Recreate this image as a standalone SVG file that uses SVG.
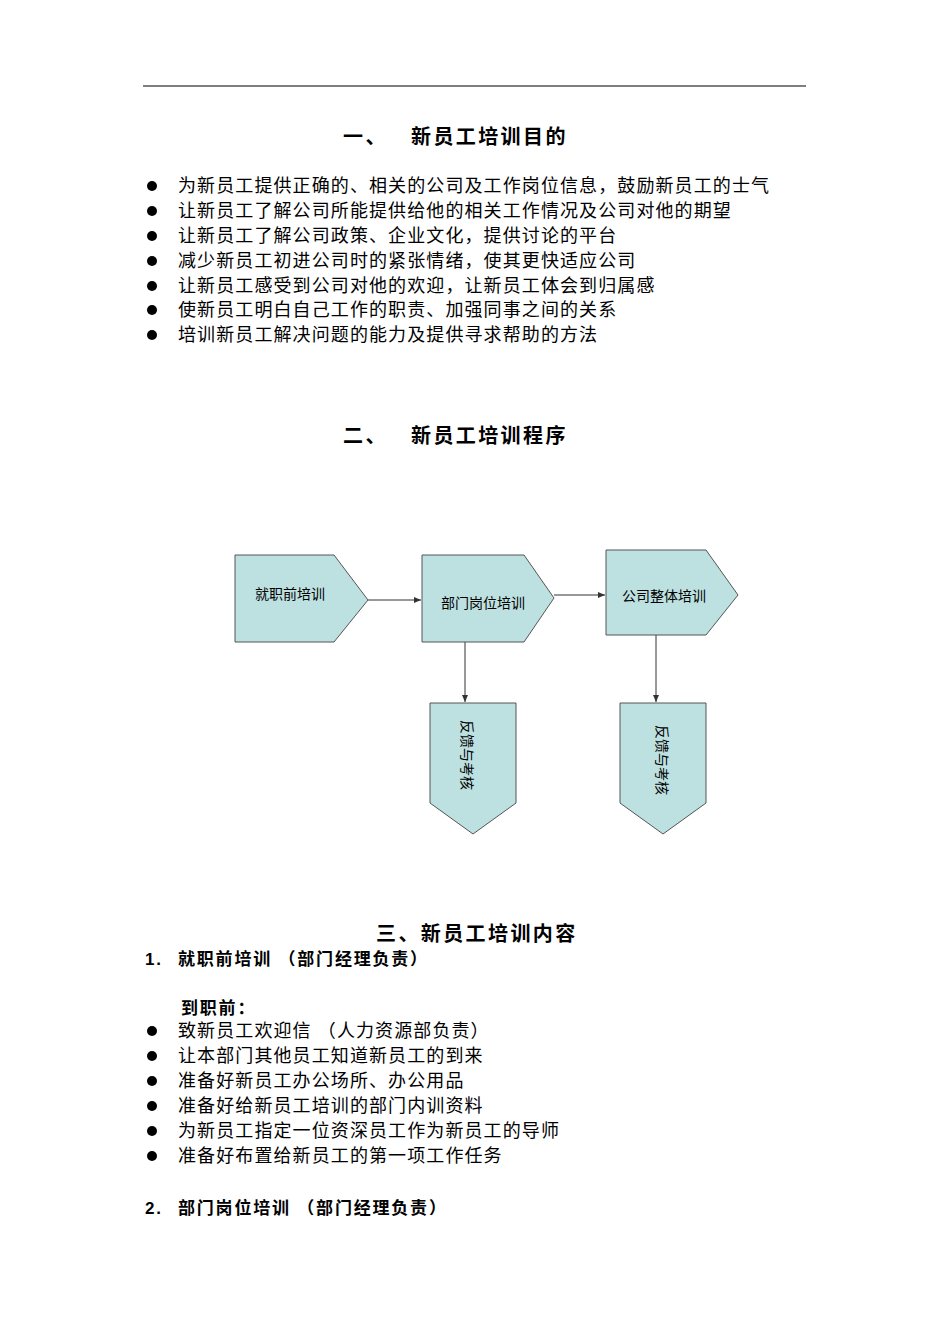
<svg xmlns="http://www.w3.org/2000/svg" width="950" height="1344" viewBox="0 0 950 1344">
<style>
text{font-family:"Liberation Sans","Noto Sans CJK SC",sans-serif;fill:#000}
.t{font-size:18px;letter-spacing:1.1px}
.h{font-size:20px;font-weight:bold;letter-spacing:2.4px}
.b{font-size:17px;font-weight:bold;letter-spacing:1.8px}
.n{fill:#bde0e0;stroke:#555;stroke-width:1}
.nl{font-size:14px}
.c{stroke:#333;stroke-width:1;fill:none;marker-end:url(#a)}
</style>
<defs><marker id="a" markerWidth="8" markerHeight="8" refX="7" refY="4" orient="auto" markerUnits="userSpaceOnUse"><path d="M0,1 L7,4 L0,7 Z" fill="#333"/></marker></defs>
<rect width="950" height="1344" fill="#fff"/>
<line x1="143" y1="86" x2="806" y2="86" stroke="#000" stroke-width="1"/>
<text class="h" x="343" y="144">一、</text><text class="h" x="411" y="144">新员工培训目的</text>
<circle cx="152" cy="186" r="5"/><text class="t" x="178" y="192">为新员工提供正确的、相关的公司及工作岗位信息，鼓励新员工的士气</text>
<circle cx="152" cy="211" r="5"/><text class="t" x="178" y="217">让新员工了解公司所能提供给他的相关工作情况及公司对他的期望</text>
<circle cx="152" cy="236" r="5"/><text class="t" x="178" y="242">让新员工了解公司政策、企业文化，提供讨论的平台</text>
<circle cx="152" cy="261" r="5"/><text class="t" x="178" y="267">减少新员工初进公司时的紧张情绪，使其更快适应公司</text>
<circle cx="152" cy="286" r="5"/><text class="t" x="178" y="292">让新员工感受到公司对他的欢迎，让新员工体会到归属感</text>
<circle cx="152" cy="310" r="5"/><text class="t" x="178" y="316">使新员工明白自己工作的职责、加强同事之间的关系</text>
<circle cx="152" cy="335" r="5"/><text class="t" x="178" y="341">培训新员工解决问题的能力及提供寻求帮助的方法</text>
<text class="h" x="343" y="443">二、</text><text class="h" x="411" y="443">新员工培训程序</text>
<g id="conn">
<line class="c" x1="368" y1="600" x2="421" y2="600"/>
<line class="c" x1="554" y1="595" x2="605" y2="595"/>
<line class="c" x1="465" y1="642" x2="465" y2="702"/>
<line class="c" x1="656" y1="635" x2="656" y2="702"/>
</g>
<g id="n1"><path class="n" d="M235,555 H334 L368,600 L334,642 H235 Z"/><text class="nl" x="290" y="599" text-anchor="middle">就职前培训</text></g>
<g id="n2"><path class="n" d="M422,555 H524 L554,598 L524,642 H422 Z"/><text class="nl" x="483" y="608" text-anchor="middle">部门岗位培训</text></g>
<g id="n3"><path class="n" d="M606,550 H706 L738,595 L706,635 H606 Z"/><text class="nl" x="664" y="601" text-anchor="middle" font-size="15">公司整体培训</text></g>
<g id="n4"><path class="n" d="M430,703 H516 V803 L473,834 L430,803 Z"/><text class="nl" transform="translate(467,755) rotate(90)" text-anchor="middle" dominant-baseline="central">反馈与考核</text></g>
<g id="n5"><path class="n" d="M620,703 H706 V803 L663,834 L620,803 Z"/><text class="nl" transform="translate(662,760) rotate(90)" text-anchor="middle" dominant-baseline="central" font-size="15">反馈与考核</text></g>
<text class="h" x="376" y="941">三、新员工培训内容</text>
<text class="b" x="145" y="965">1.</text><text class="b" x="178" y="965">就职前培训 （部门经理负责）</text>
<text class="b" x="181" y="1014">到职前：</text>
<circle cx="152" cy="1031" r="5"/><text class="t" x="178" y="1037">致新员工欢迎信 （人力资源部负责）</text>
<circle cx="152" cy="1056" r="5"/><text class="t" x="178" y="1062">让本部门其他员工知道新员工的到来</text>
<circle cx="152" cy="1081" r="5"/><text class="t" x="178" y="1087">准备好新员工办公场所、办公用品</text>
<circle cx="152" cy="1106" r="5"/><text class="t" x="178" y="1112">准备好给新员工培训的部门内训资料</text>
<circle cx="152" cy="1131" r="5"/><text class="t" x="178" y="1137">为新员工指定一位资深员工作为新员工的导师</text>
<circle cx="152" cy="1156" r="5"/><text class="t" x="178" y="1162">准备好布置给新员工的第一项工作任务</text>
<text class="b" x="145" y="1214">2.</text><text class="b" x="178" y="1214">部门岗位培训 （部门经理负责）</text>
</svg>
